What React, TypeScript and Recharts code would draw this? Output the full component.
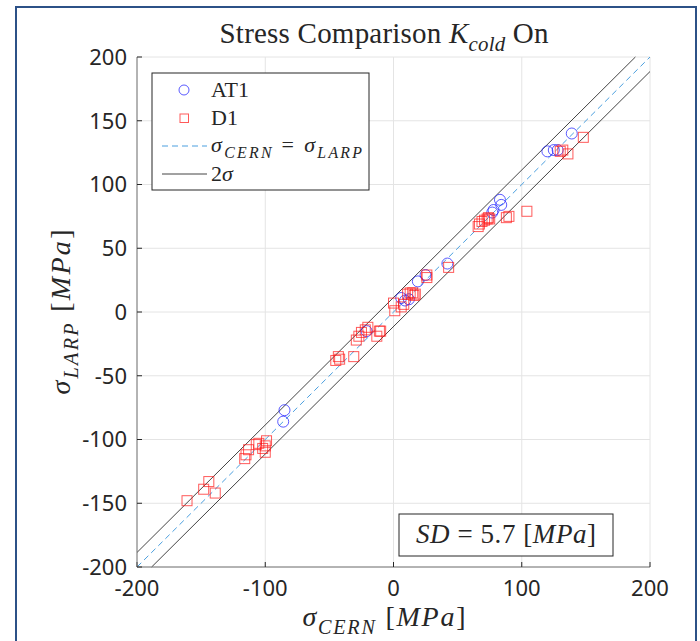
import { ScatterChart, Scatter, XAxis, YAxis, CartesianGrid, ReferenceLine, Customized } from 'recharts'

// stress values, MPa
const at1Cern = [139, 120, 125, 128, 83, 84, 78, 77, 42, 25, 19, 6, 9, 12, -21, -85, -86]
const at1Larp = [140, 126, 127, 127, 88, 84, 80, 78, 38, 29, 24, 11, 9, 10, -15, -77, -86]

const d1Cern = [
  148, 136, 132, 130, 104, 90, 88, 75, 74, 73, 71, 69, 67, 66, 43, 26, 26, 17, 16, 15, 13, 11,
  8, 6, 1, 0, -11, -10, -13, -20, -22, -25, -27, -29, -31, -42, -43, -45,
  -99, -100, -105, -107, -102, -100, -113, -115, -116, -144, -148, -139, -161,
]
const d1Larp = [
  137, 124, 127, 126, 79, 75, 74, 73, 74, 73, 72, 71, 69, 67, 35, 29, 27, 14, 13, 15, 15, 14,
  6, 4, 1, 7, -15, -15, -19, -12, -14, -16, -19, -22, -35, -37, -35, -38,
  -101, -105, -103, -104, -107, -110, -108, -112, -115, -133, -139, -142, -148,
]

const sd = 5.7
const xTicks = [-200, -100, 0, 100, 200]
const yTicks = [-200, -150, -100, -50, 0, 50, 100, 150, 200]

const at1 = at1Cern.map((x, i) => ({ x, y: at1Larp[i] }))
const d1 = d1Cern.map((x, i) => ({ x, y: d1Larp[i] }))

const lo = -200
const hi = 200
const band = 2 * sd

const SERIF = '"Liberation Serif", "DejaVu Serif", serif'
const INK = '#262626'

type Part = { t: string; i?: boolean; sub?: boolean }

function Tex({ x, y, size, parts, anchor = 'start', transform, len }: {
  x: number; y: number; size: number; parts: Part[]; anchor?: string; transform?: string; len?: number
}) {
  let prevSub = false
  const shift = size * 0.28
  return (
    <text x={x} y={y} fontFamily={SERIF} fontSize={size} textAnchor={anchor} fill={INK}
      transform={transform} style={{ whiteSpace: 'pre' }}
      textLength={len} lengthAdjust={len ? 'spacing' : undefined}>
      {parts.map((p, k) => {
        const sub = !!p.sub
        const dy = sub && !prevSub ? shift : !sub && prevSub ? -shift : 0
        prevSub = sub
        return (
          <tspan key={k} dy={dy || undefined} fontStyle={p.i ? 'italic' : 'normal'}
            fontSize={sub ? size * 0.72 : size}>{p.t}</tspan>
        )
      })}
    </text>
  )
}

const sigma = (s: string): Part[] => [{ t: 'σ', i: true }, { t: s, i: true, sub: true }]
const mpa: Part[] = [{ t: ' [' }, { t: 'MPa', i: true }, { t: ']' }]

const CircleMark = (p: any) => (
  <circle cx={p.cx} cy={p.cy} r={5.5} fill="none" stroke="#2424ff" strokeOpacity={0.75} strokeWidth={1} />
)
const SquareMark = (p: any) => (
  <rect x={p.cx - 5} y={p.cy - 5} width={10} height={10} fill="none" stroke="#ff1414" strokeOpacity={0.7} strokeWidth={1} />
)

function Overlay() {
  return (
    <g>
      <Tex x={384} y={43} size={29} anchor="middle" len={329}
        parts={[{ t: 'Stress Comparison ' }, { t: 'K', i: true }, { t: 'cold', i: true, sub: true }, { t: ' On' }]} />
      <Tex x={384} y={626} size={28} anchor="middle" len={163} parts={[...sigma('CERN'), ...mpa]} />
      <Tex x={70} y={312} size={28} anchor="middle" len={165} transform="rotate(-90 70 312)"
        parts={[...sigma('LARP'), ...mpa]} />

      <rect x={152} y={73} width={217} height={117} fill="#fff" stroke={INK} strokeWidth={1} />
      <circle cx={184} cy={90} r={5} fill="none" stroke="#2424ff" strokeOpacity={0.75} />
      <Tex x={211} y={97} size={22} parts={[{ t: 'AT1' }]} />
      <rect x={180} y={114} width={8.5} height={8.5} fill="none" stroke="#ff1414" strokeOpacity={0.7} />
      <Tex x={211} y={125} size={22} parts={[{ t: 'D1' }]} />
      <line x1={162} x2={207} y1={146} y2={146} stroke="#4a9fdf" strokeDasharray="6 4" />
      <Tex x={211} y={152} size={22} len={151} parts={[...sigma('CERN'), { t: ' = ' }, ...sigma('LARP')]} />
      <line x1={162} x2={207} y1={174} y2={174} stroke="#444" />
      <Tex x={211} y={181} size={22} parts={[{ t: '2' }, { t: 'σ', i: true }]} />

      <rect x={399} y={514} width={214} height={42} fill="#fff" stroke={INK} strokeWidth={1} />
      <Tex x={506} y={543} size={27} anchor="middle" len={180}
        parts={[{ t: 'SD', i: true }, { t: ' = 5.7 [' }, { t: 'MPa', i: true }, { t: ']' }]} />
    </g>
  )
}

const tickStyle = { fontSize: 22, fill: INK, fontFamily: '"Noto Sans", sans-serif' }

export default function App() {
  return (
    <div style={{ position: 'fixed', left: 0, top: 0, width: 700, height: 641, background: '#fff', overflow: 'hidden' }}>
      <div style={{
        position: 'absolute', left: 15, top: 6, width: 682, height: 700,
        border: '2px solid #2c5187', boxSizing: 'border-box',
      }} />
      <div style={{ position: 'absolute', left: 0, top: 0 }}>
        <ScatterChart width={700} height={641} margin={{ top: 57, right: 50, bottom: 44, left: 77 }}>
          <CartesianGrid stroke="#e4e4e4" />
          <XAxis type="number" dataKey="x" domain={[lo, hi]} ticks={xTicks} allowDataOverflow
            height={30} tickSize={-5} tickMargin={18} stroke="#777" tick={tickStyle}
            tickLine={{ stroke: INK }} interval={0} />
          <YAxis type="number" dataKey="y" domain={[lo, hi]} ticks={yTicks} allowDataOverflow
            width={60} tickSize={-5} tickMargin={15} stroke="#777" tick={tickStyle}
            tickLine={{ stroke: INK }} interval={0} />
          <ReferenceLine segment={[{ x: lo, y: lo + band }, { x: hi - band, y: hi }]} stroke="#444" strokeWidth={1} />
          <ReferenceLine segment={[{ x: lo + band, y: lo }, { x: hi, y: hi - band }]} stroke="#444" strokeWidth={1} />
          <ReferenceLine segment={[{ x: lo, y: lo }, { x: hi, y: hi }]} stroke="#4a9fdf" strokeDasharray="6 4" strokeWidth={1} />
          <Scatter name="AT1" data={at1} shape={CircleMark} isAnimationActive={false} />
          <Scatter name="D1" data={d1} shape={SquareMark} isAnimationActive={false} />
          <Customized component={<Overlay />} />
        </ScatterChart>
      </div>
    </div>
  )
}
